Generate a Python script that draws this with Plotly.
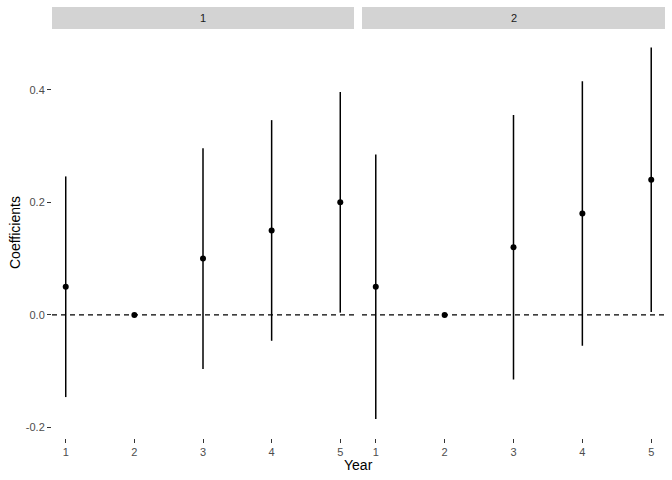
import plotly.graph_objects as go

years = [1, 2, 3, 4, 5]
panels = ["1", "2"]
coef_1 = [0.05, 0.0, 0.10, 0.15, 0.20]
lower_1 = [-0.146, 0.0, -0.096, -0.046, 0.004]
upper_1 = [0.246, 0.0, 0.296, 0.346, 0.396]
coef_2 = [0.05, 0.0, 0.12, 0.18, 0.24]
lower_2 = [-0.185, 0.0, -0.115, -0.055, 0.005]
upper_2 = [0.285, 0.0, 0.355, 0.415, 0.475]
y_ticks = [-0.2, 0.0, 0.2, 0.4]
y_tick_text = ["-0.2", "0.0", "0.2", "0.4"]

FONT = "Liberation Sans, Arial, sans-serif"
fig = go.Figure()

data = [(coef_1, lower_1, upper_1), (coef_2, lower_2, upper_2)]
for i, (c, lo, up) in enumerate(data):
    xa = "x" if i == 0 else "x2"
    ya = "y" if i == 0 else "y2"
    fig.add_trace(go.Scatter(
        x=[years[0] - 0.2, years[-1] + 0.2], y=[0, 0], mode="lines",
        line=dict(color="black", width=1.2, dash="5px,4px"),
        xaxis=xa, yaxis=ya, showlegend=False, hoverinfo="skip"))
    fig.add_trace(go.Scatter(
        x=years, y=c, mode="markers",
        marker=dict(color="black", size=6),
        error_y=dict(type="data", symmetric=False,
                     array=[u - v for u, v in zip(up, c)],
                     arrayminus=[v - l for v, l in zip(c, lo)],
                     width=0, thickness=1.5, color="black"),
        xaxis=xa, yaxis=ya, showlegend=False))

y_dom = [0.0875, 0.9396]
x_doms = [[52 / 672, 354 / 672], [362 / 672, 665 / 672]]
yr = [-0.2187, 0.5079]

common_x = dict(range=[0.8, 5.2], tickvals=years, ticktext=[str(v) for v in years],
                ticks="outside", ticklen=4, tickwidth=1, tickcolor="#333333",
                showgrid=False, zeroline=False, showline=False,
                tickfont=dict(family=FONT, size=11, color="#4D4D4D"))

fig.update_layout(
    width=672, height=480,
    margin=dict(l=0, r=0, t=0, b=0),
    paper_bgcolor="white", plot_bgcolor="white",
    xaxis=dict(domain=x_doms[0], anchor="y", **common_x),
    xaxis2=dict(domain=x_doms[1], anchor="y2", **common_x),
    yaxis=dict(domain=y_dom, range=yr, anchor="x", tickvals=y_ticks, ticktext=y_tick_text,
               ticks="outside", ticklen=4, tickwidth=1, tickcolor="#333333",
               showgrid=False, zeroline=False, showline=False,
               tickfont=dict(family=FONT, size=11, color="#4D4D4D")),
    yaxis2=dict(domain=y_dom, range=yr, anchor="x2", showticklabels=False, ticks="",
                showgrid=False, zeroline=False, showline=False),
    font=dict(family=FONT),
)

# facet strips
for dom, lab in zip(x_doms, panels):
    fig.add_shape(type="rect", xref="paper", yref="paper",
                  x0=dom[0], x1=dom[1], y0=y_dom[1], y1=(480 - 7) / 480,
                  fillcolor="#D3D3D3", line=dict(width=0), layer="below")
    fig.add_annotation(xref="paper", yref="paper", x=(dom[0] + dom[1]) / 2,
                       y=(y_dom[1] + (480 - 7) / 480) / 2, text=lab, showarrow=False,
                       font=dict(family=FONT, size=11, color="#1A1A1A"),
                       xanchor="center", yanchor="middle")

fig.add_annotation(xref="paper", yref="paper", x=(52 + 665) / 2 / 672, y=(480 - 465) / 480,
                   text="Year", showarrow=False, xanchor="center", yanchor="middle",
                   font=dict(family=FONT, size=14, color="black"))
fig.add_annotation(xref="paper", yref="paper", x=15 / 672, y=(480 - 233) / 480,
                   text="Coefficients", showarrow=False, textangle=-90,
                   xanchor="center", yanchor="middle",
                   font=dict(family=FONT, size=14, color="black"))

fig.write_html("out.html")
